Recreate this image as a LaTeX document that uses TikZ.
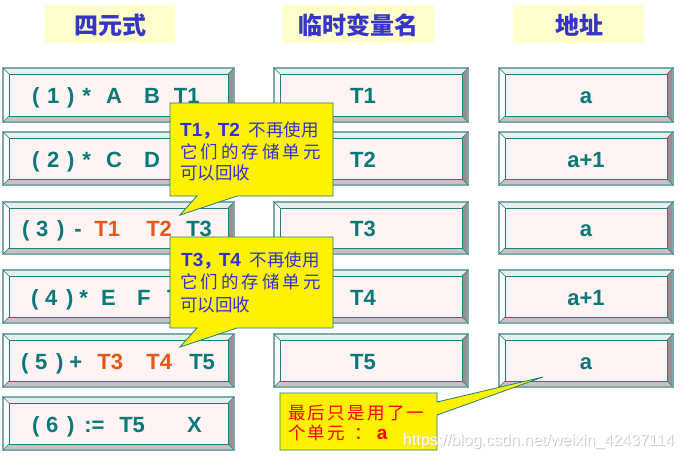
\documentclass[tikz,border=0pt]{standalone}
\usepackage{fontspec}
\setmainfont{Liberation Sans}
\newfontfamily\cjk{Noto Sans CJK SC}
\definecolor{tealtxt}{HTML}{087878}
\definecolor{orng}{HTML}{E4561A}
\definecolor{hdrblue}{HTML}{3535C8}
\definecolor{hdrbg}{HTML}{FFFFCC}
\definecolor{face}{HTML}{FFF3F3}
\definecolor{bevtop}{HTML}{E6EEEE}
\definecolor{bevleft}{HTML}{F7FBFB}
\definecolor{bevright}{HTML}{969090}
\definecolor{bevbot}{HTML}{C9C0C0}
\definecolor{edge}{HTML}{1F7F7F}
\definecolor{outer}{HTML}{7FAAAA}
\definecolor{cblue}{HTML}{3232D2}
\definecolor{cred}{HTML}{FF0000}
\newcommand\gp[1]{\hspace{#1pt}}
\newcommand\bevbox[5]{%
  \fill[bevtop] (#2,#3) -- (#4,#3) -- ({#4-6},{#3+6}) -- ({#2+6},{#3+6}) -- cycle;
  \fill[bevleft] (#2,#3) -- ({#2+6},{#3+6}) -- ({#2+6},{#5-6}) -- (#2,#5) -- cycle;
  \fill[bevright] (#4,#3) -- (#4,#5) -- ({#4-6},{#5-6}) -- ({#4-6},{#3+6}) -- cycle;
  \fill[bevbot] (#2,#5) -- (#4,#5) -- ({#4-6},{#5-6}) -- ({#2+6},{#5-6}) -- cycle;
  \draw[outer, line width=1.2pt] (#2,#3) rectangle (#4,#5);
  \draw[edge, line width=0.6pt] (#2,#3) -- ({#2+6},{#3+6}) (#4,#3) -- ({#4-6},{#3+6})
     (#2,#5) -- ({#2+6},{#5-6}) (#4,#5) -- ({#4-6},{#5-6});
  \node[facebox, minimum width={(#4-#2-12)*1pt}, minimum height={(#5-#3-12)*1pt}]
     (#1) at ({(#2+#4)/2},{(#3+#5)/2}) {};
}
\tikzset{
  boxtxt/.style={font=\fontsize{22}{26}\selectfont\bfseries, text=tealtxt, inner sep=0pt},
  facebox/.style={draw=edge, line width=0.8pt, fill=face, inner sep=0pt},
  callout/.style={fill=yellow, draw=edge, line width=0.8pt, line join=miter},
  ctext/.style={inner sep=0pt, anchor=base west},
  hdr/.style={fill=hdrbg, inner sep=0pt},
  hdrtxt/.style={font=\cjk\bfseries\fontsize{24}{28}\selectfont, text=hdrblue, inner sep=0pt},
}
\begin{document}
\begin{tikzpicture}[x=1pt, y=-1pt]
\useasboundingbox (0,0) rectangle (684,458);
\fill[white] (0,0) rectangle (684,458);
% headers
\node[hdr, minimum width=130pt, minimum height=38pt] (h1) at (110,24) {};
\node[hdr, minimum width=152pt, minimum height=38pt] (h2) at (358,24) {};
\node[hdr, minimum width=131pt, minimum height=38pt] (h3) at (578.5,24) {};
\node[hdrtxt] (h1t) at (110,25.5) {四元式};
\node[hdrtxt] (h2t) at (358,25.5) {临时变量名};
\node[hdrtxt] (h3t) at (579,25.5) {地址};
% left column
\bevbox{l1}{3}{68}{234}{122}
\bevbox{l2}{3}{132}{234}{185}
\bevbox{l3}{3}{202}{234}{254}
\bevbox{l4}{3}{270}{234}{323}
\bevbox{l5}{3}{334}{234}{387}
\bevbox{l6}{3}{397}{234}{450}
% middle column
\bevbox{m1}{274}{68}{468}{122}
\bevbox{m2}{274}{132}{468}{185}
\bevbox{m3}{274}{202}{468}{254}
\bevbox{m4}{274}{270}{468}{323}
\bevbox{m5}{274}{334}{468}{387}
% right column
\bevbox{r1}{499}{68}{673}{122}
\bevbox{r2}{499}{132}{673}{185}
\bevbox{r3}{499}{202}{673}{254}
\bevbox{r4}{499}{270}{673}{323}
\bevbox{r5}{499}{334}{673}{387}
% left texts
\node[boxtxt, anchor=base west] (q1) at (32,103.5) {(\gp{7.7}1\gp{7.8})\gp{7.7}*\gp{15.4}A\gp{22}B\gp{14}T1};
\node[boxtxt, anchor=base west] (q2) at (32,167) {(\gp{7.7}2\gp{7.8})\gp{7.7}*\gp{15.4}C\gp{22}D\gp{14}T2};
\node[boxtxt, anchor=base west] (q3) at (22,236.5) {(\gp{6.5}3\gp{9})\gp{9.7}-\gp{12.7}\textcolor{orng}{T1}\gp{26.3}\textcolor{orng}{T2}\gp{14.3}T3};
\node[boxtxt, anchor=base west] (q4) at (31,305) {(\gp{6.5}4\gp{9})\gp{5.7}*\gp{13.4}E\gp{21.3}F\gp{16.6}T4};
\node[boxtxt, anchor=base west] (q5) at (21,369.5) {(\gp{6.5}5\gp{9})\gp{5.7}+\gp{15.2}\textcolor{orng}{T3}\gp{23.3}\textcolor{orng}{T4}\gp{17.3}T5};
\node[boxtxt, anchor=base west] (q6) at (32,432) {(\gp{6.5}6\gp{9})\gp{9.7}:=\gp{14.8}T5\gp{42.3}X};
% middle texts
\node[boxtxt, anchor=base] (t1) at (363,103.5) {T1};
\node[boxtxt, anchor=base] (t2) at (363,167) {T2};
\node[boxtxt, anchor=base] (t3) at (363,236.5) {T3};
\node[boxtxt, anchor=base] (t4) at (363,305) {T4};
\node[boxtxt, anchor=base] (t5) at (363,369.5) {T5};
% right texts
\node[boxtxt, anchor=base] (a1) at (586,103.5) {a};
\node[boxtxt, anchor=base] (a2) at (586,167) {a+1};
\node[boxtxt, anchor=base] (a3) at (586,236.5) {a};
\node[boxtxt, anchor=base] (a4) at (586,305) {a+1};
\node[boxtxt, anchor=base] (a5) at (586,369.5) {a};
% callout 1
\draw[callout] (170,103) -- (333,103) -- (333,196) -- (237,196) -- (180,215) -- (197,196) -- (170,196) -- cycle;
\node[ctext, text=cblue] (c1a) at (180,136.5) {\fontsize{19}{22}\selectfont\bfseries T1{\cjk\fontsize{17.5}{20}\selectfont ，}\gp{-2}T2\gp{8.8}{\cjk\mdseries\fontsize{17.5}{20}\selectfont 不再使用}};
\node[ctext, text=cblue, font=\cjk\fontsize{17.5}{20}\selectfont] (c1b) at (180,158.5) {它\gp{3}们\gp{3}的\gp{3}存\gp{3}储\gp{3}单\gp{3}元};
\node[ctext, text=cblue, font=\cjk\fontsize{17.5}{20}\selectfont] (c1c) at (180,179.5) {可以回收};
% callout 2
\draw[callout] (170,237) -- (333,237) -- (333,328) -- (237,328) -- (180,347) -- (197,328) -- (170,328) -- cycle;
\node[ctext, text=cblue] (c2a) at (181,266.5) {\fontsize{19}{22}\selectfont\bfseries T3{\cjk\fontsize{17.5}{20}\selectfont ，}\gp{-2}T4\gp{8.8}{\cjk\mdseries\fontsize{17.5}{20}\selectfont 不再使用}};
\node[ctext, text=cblue, font=\cjk\fontsize{17.5}{20}\selectfont] (c2b) at (180,288.5) {它\gp{3}们\gp{3}的\gp{3}存\gp{3}储\gp{3}单\gp{3}元};
\node[ctext, text=cblue, font=\cjk\fontsize{17.5}{20}\selectfont] (c2c) at (180,311.5) {可以回收};
% callout 3
\draw[callout] (280,393) -- (437,393) -- (437,402) -- (543,377) -- (437,415) -- (437,450) -- (280,450) -- cycle;
\node[ctext, text=cred, font=\cjk\fontsize{17.5}{20}\selectfont] (c3a) at (288,419.5) {最\gp{2.3}后\gp{2.3}只\gp{2.3}是\gp{2.3}用\gp{2.3}了\gp{2.3}一};
\node[ctext, text=cred, font=\cjk\fontsize{17.5}{20}\selectfont] (c3b) at (288,439.5) {个\gp{2.3}单\gp{2.3}元\gp{9}：\gp{5}{\fontspec{Liberation Sans}\bfseries\fontsize{19}{22}\selectfont a}};
% watermark
\node[ctext, text=black!22, font=\fontsize{16}{18}\selectfont] (wm0) at (404,446) {https://blog.csdn.net/weixin\_42437114};
\node[ctext, text=white, font=\fontsize{16}{18}\selectfont] (wm) at (403,445) {https://blog.csdn.net/weixin\_42437114};
\end{tikzpicture}
\end{document}
